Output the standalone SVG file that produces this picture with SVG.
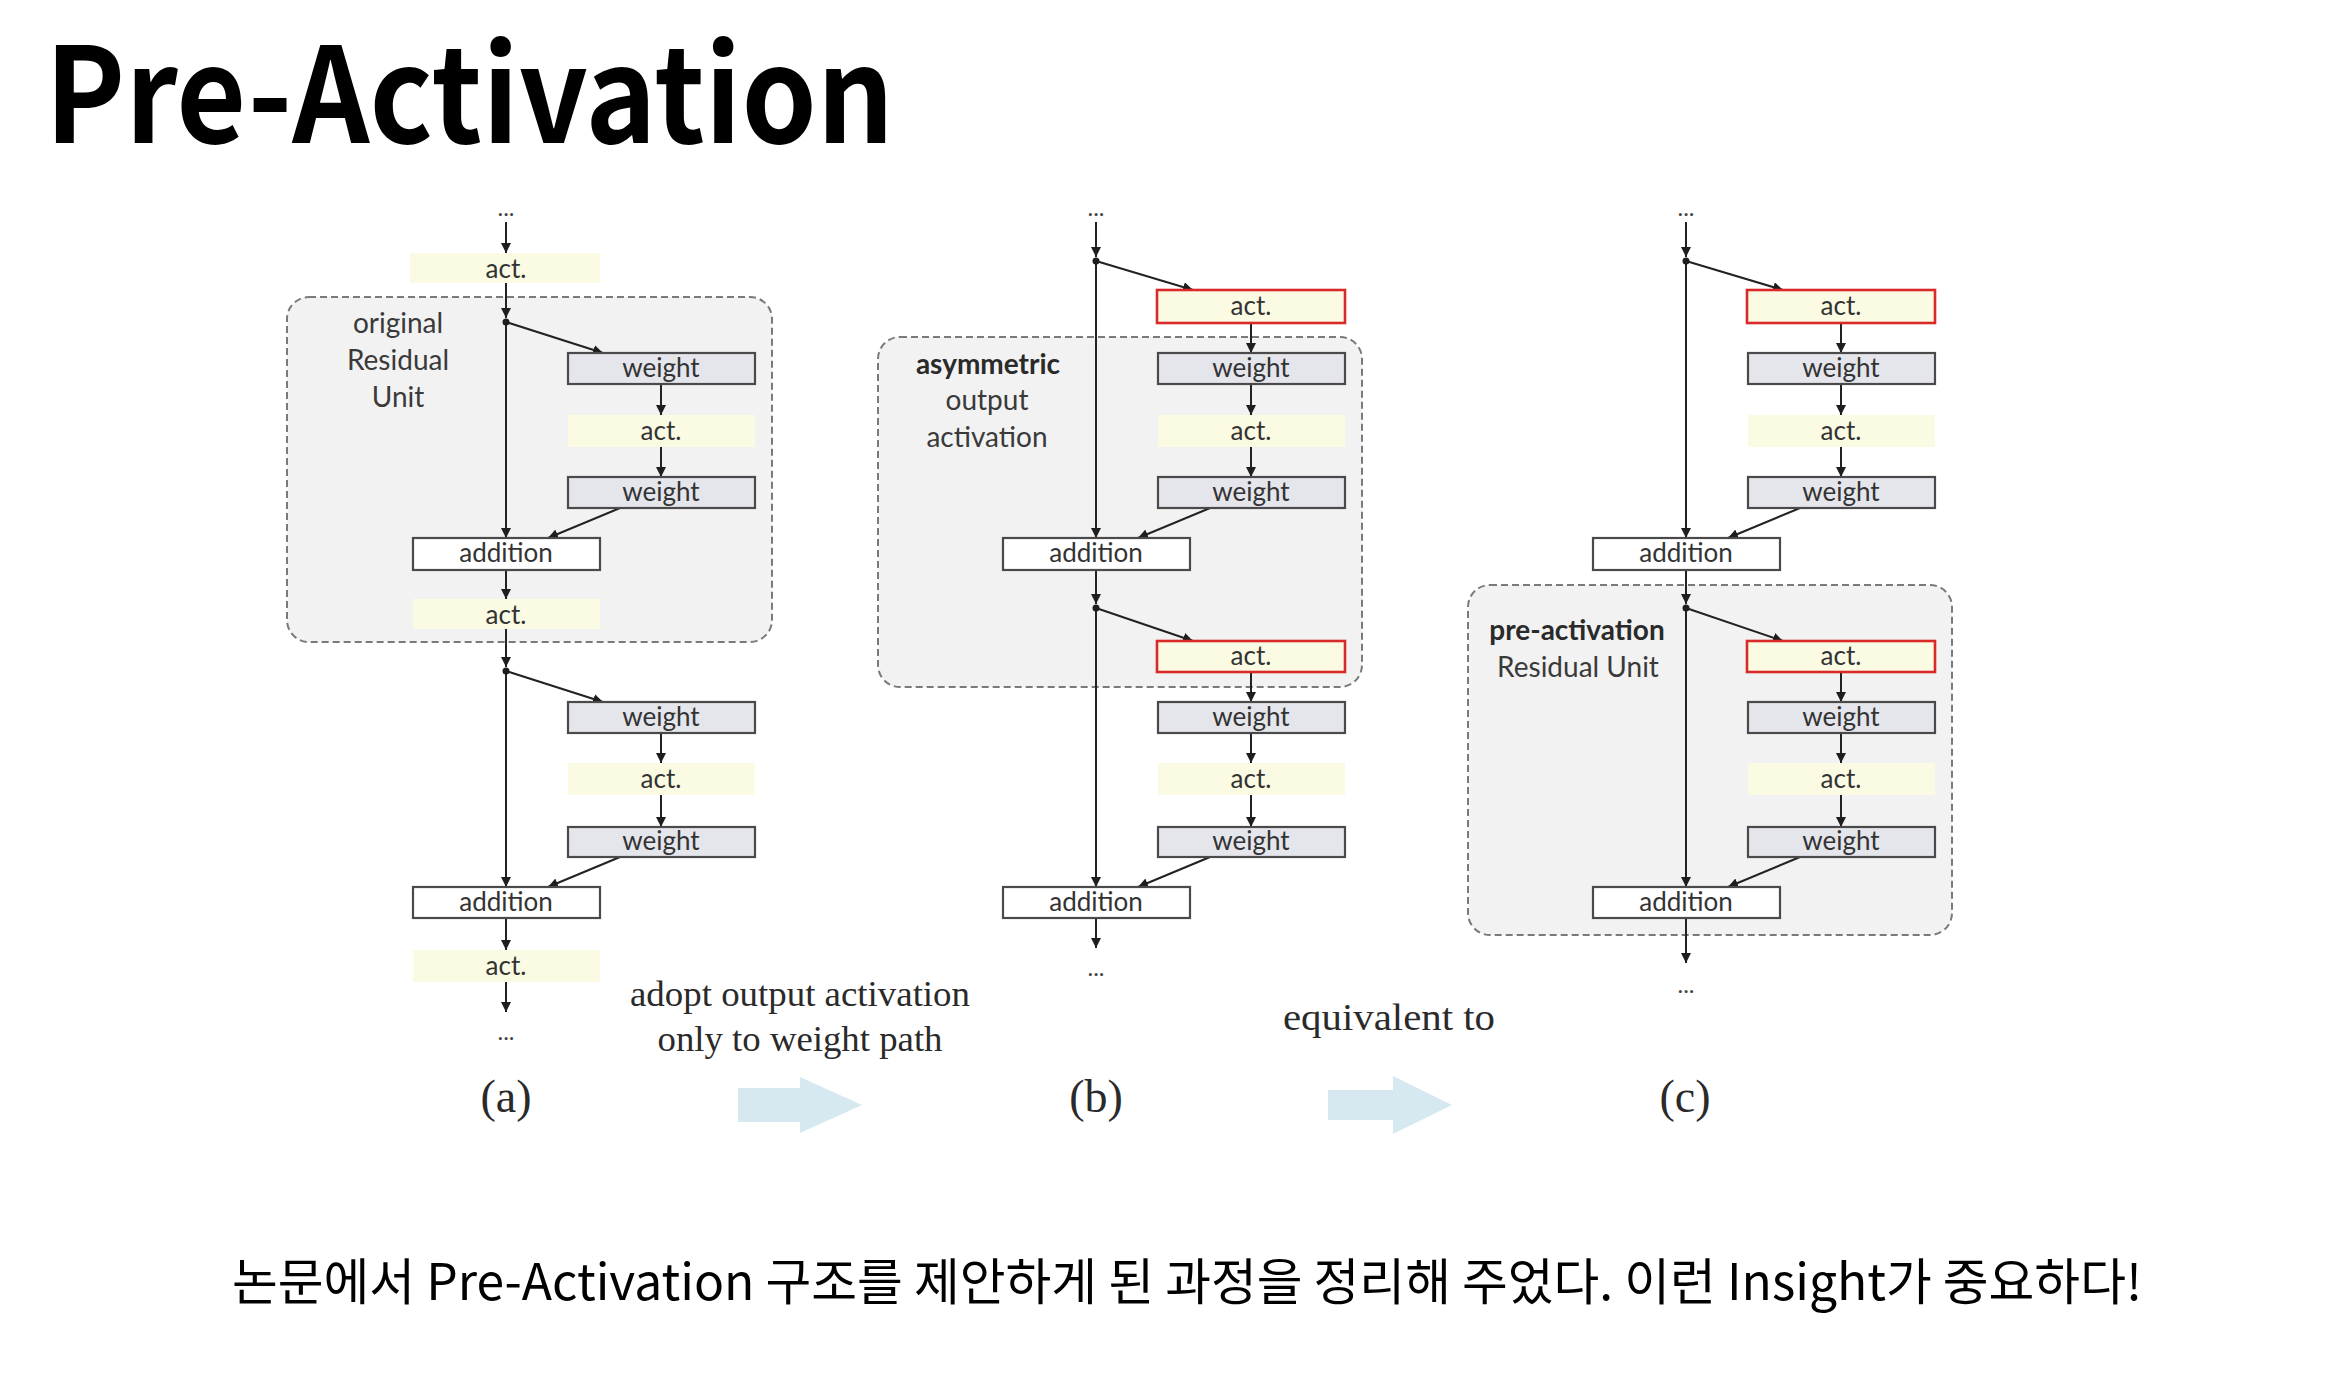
<svg xmlns="http://www.w3.org/2000/svg" width="2345" height="1385" viewBox="0 0 2345 1385">
  <style>
    .title { font-family: "Noto Sans CJK KR", "Noto Sans", sans-serif; font-weight: 700; font-size: 132px; fill: #000; }
    .caption { font-family: "Noto Sans CJK KR", "Noto Sans", sans-serif; font-size: 50px; fill: #000; }
    .unit { fill: #f2f2f2; stroke: #7a7a7a; stroke-width: 2; stroke-dasharray: 7 4; }
    .weight { fill: #e5e5ec; stroke: #4a4a4a; stroke-width: 2.2; }
    .act { fill: #fbfbe4; stroke: none; }
    .act-red { fill: #fbfbe4; stroke: #d92a2a; stroke-width: 2.6; }
    .add { fill: #ffffff; stroke: #4a4a4a; stroke-width: 2.2; }
    .lbl { font-family: Lato, "Open Sans", sans-serif; font-size: 26px; fill: #333; text-anchor: middle; }
    .note { font-family: Lato, "Open Sans", sans-serif; font-size: 28px; fill: #3a3a3a; text-anchor: middle; }
    .note-b { font-family: Lato, "Open Sans", sans-serif; font-size: 28px; font-weight: 700; fill: #2a2a2a; text-anchor: middle; }
    .dots { font-family: Lato, sans-serif; font-size: 24px; fill: #444; text-anchor: middle; }
    .serif { font-family: "Liberation Serif", "Times New Roman", serif; fill: #2a2a2a; text-anchor: middle; }
    .fig { font-family: "Liberation Serif", "Times New Roman", serif; font-size: 46px; fill: #2a2a2a; text-anchor: middle; }
    .arr { stroke: #222; stroke-width: 2; fill: none; marker-end: url(#head); }
    .big-arrow { fill: #d6e9f1; }
  </style>
  <defs>
    <marker id="head" viewBox="0 0 10 10" refX="10" refY="5" markerWidth="10" markerHeight="10" markerUnits="userSpaceOnUse" orient="auto">
      <path d="M0,0 L10,5 L0,10 z" fill="#1e1e1e"/>
    </marker>
  </defs>

  <rect width="2345" height="1385" fill="#ffffff"/>

  <text id="title" class="title" x="45" y="143" textLength="849" lengthAdjust="spacingAndGlyphs">Pre-Activation</text>

  <!-- dashed unit outlines -->
  <g id="units">
    <rect id="unit-a" class="unit" x="287" y="297" width="485" height="345" rx="22"/>
    <rect id="unit-b" class="unit" x="878" y="337" width="484" height="350" rx="22"/>
    <rect id="unit-c" class="unit" x="1468" y="585" width="484" height="350" rx="22"/>
  </g>

  <!-- connectors -->
  <g id="connectors">
    <!-- (a) -->
    <line class="arr" x1="506" y1="222" x2="506" y2="253"/>
    <line class="arr" x1="506" y1="283" x2="506" y2="318"/>
    <line class="arr" x1="506" y1="322" x2="506" y2="538"/>
    <line class="arr" x1="506" y1="322" x2="603" y2="353"/>
    <line class="arr" x1="661" y1="384" x2="661" y2="415"/>
    <line class="arr" x1="661" y1="447" x2="661" y2="477"/>
    <line class="arr" x1="620" y1="508" x2="548" y2="538"/>
    <line class="arr" x1="506" y1="570" x2="506" y2="599"/>
    <line class="arr" x1="506" y1="629" x2="506" y2="667"/>
    <line class="arr" x1="506" y1="671" x2="506" y2="887"/>
    <line class="arr" x1="506" y1="671" x2="603" y2="702"/>
    <line class="arr" x1="661" y1="733" x2="661" y2="763"/>
    <line class="arr" x1="661" y1="795" x2="661" y2="827"/>
    <line class="arr" x1="620" y1="857" x2="548" y2="887"/>
    <line class="arr" x1="506" y1="918" x2="506" y2="950"/>
    <line class="arr" x1="506" y1="982" x2="506" y2="1012"/>
    <circle cx="506" cy="322" r="3.5" fill="#1e1e1e"/>
    <circle cx="506" cy="671" r="3.5" fill="#1e1e1e"/>

    <!-- (b) -->
    <line class="arr" x1="1096" y1="222" x2="1096" y2="257"/>
    <line class="arr" x1="1096" y1="261" x2="1096" y2="538"/>
    <line class="arr" x1="1096" y1="261" x2="1193" y2="290"/>
    <line class="arr" x1="1251" y1="323" x2="1251" y2="353"/>
    <line class="arr" x1="1251" y1="384" x2="1251" y2="415"/>
    <line class="arr" x1="1251" y1="447" x2="1251" y2="477"/>
    <line class="arr" x1="1210" y1="508" x2="1138" y2="538"/>
    <line class="arr" x1="1096" y1="570" x2="1096" y2="604"/>
    <line class="arr" x1="1096" y1="608" x2="1096" y2="887"/>
    <line class="arr" x1="1096" y1="608" x2="1193" y2="641"/>
    <line class="arr" x1="1251" y1="672" x2="1251" y2="702"/>
    <line class="arr" x1="1251" y1="733" x2="1251" y2="763"/>
    <line class="arr" x1="1251" y1="795" x2="1251" y2="827"/>
    <line class="arr" x1="1210" y1="857" x2="1138" y2="887"/>
    <line class="arr" x1="1096" y1="918" x2="1096" y2="948"/>
    <circle cx="1096" cy="261" r="3.5" fill="#1e1e1e"/>
    <circle cx="1096" cy="608" r="3.5" fill="#1e1e1e"/>

    <!-- (c) -->
    <line class="arr" x1="1686" y1="222" x2="1686" y2="257"/>
    <line class="arr" x1="1686" y1="261" x2="1686" y2="538"/>
    <line class="arr" x1="1686" y1="261" x2="1783" y2="290"/>
    <line class="arr" x1="1841" y1="323" x2="1841" y2="353"/>
    <line class="arr" x1="1841" y1="384" x2="1841" y2="415"/>
    <line class="arr" x1="1841" y1="447" x2="1841" y2="477"/>
    <line class="arr" x1="1800" y1="508" x2="1728" y2="538"/>
    <line class="arr" x1="1686" y1="570" x2="1686" y2="604"/>
    <line class="arr" x1="1686" y1="608" x2="1686" y2="887"/>
    <line class="arr" x1="1686" y1="608" x2="1783" y2="641"/>
    <line class="arr" x1="1841" y1="672" x2="1841" y2="702"/>
    <line class="arr" x1="1841" y1="733" x2="1841" y2="763"/>
    <line class="arr" x1="1841" y1="795" x2="1841" y2="827"/>
    <line class="arr" x1="1800" y1="857" x2="1728" y2="887"/>
    <line class="arr" x1="1686" y1="918" x2="1686" y2="963"/>
    <circle cx="1686" cy="261" r="3.5" fill="#1e1e1e"/>
    <circle cx="1686" cy="608" r="3.5" fill="#1e1e1e"/>
  </g>

  <!-- column (a): original Residual Unit -->
  <g id="col-a">
    <text class="dots" x="506" y="216">...</text>
    <g id="a-act0"><rect class="act" x="410" y="253" width="190" height="30"/><text class="lbl" x="506" y="278">act.</text></g>
    <g id="a-w1"><rect class="weight" x="568" y="353" width="187" height="31"/><text class="lbl" x="661" y="377">weight</text></g>
    <g id="a-act1"><rect class="act" x="568" y="415" width="187" height="32"/><text class="lbl" x="661" y="440">act.</text></g>
    <g id="a-w2"><rect class="weight" x="568" y="477" width="187" height="31"/><text class="lbl" x="661" y="501">weight</text></g>
    <g id="a-add1"><rect class="add" x="413" y="538" width="187" height="32"/><text class="lbl" x="506" y="562">addition</text></g>
    <g id="a-act2"><rect class="act" x="413" y="599" width="187" height="30"/><text class="lbl" x="506" y="624">act.</text></g>
    <g id="a-w3"><rect class="weight" x="568" y="702" width="187" height="31"/><text class="lbl" x="661" y="726">weight</text></g>
    <g id="a-act3"><rect class="act" x="568" y="763" width="187" height="32"/><text class="lbl" x="661" y="788">act.</text></g>
    <g id="a-w4"><rect class="weight" x="568" y="827" width="187" height="30"/><text class="lbl" x="661" y="850">weight</text></g>
    <g id="a-add2"><rect class="add" x="413" y="887" width="187" height="31"/><text class="lbl" x="506" y="911">addition</text></g>
    <g id="a-act4"><rect class="act" x="413" y="950" width="187" height="32"/><text class="lbl" x="506" y="975">act.</text></g>
    <text class="dots" x="506" y="1040">...</text>
    <text class="note" x="398" y="333">original</text>
    <text class="note" x="398" y="370">Residual</text>
    <text class="note" x="398" y="407">Unit</text>
    <text class="fig" x="506" y="1112">(a)</text>
  </g>

  <!-- column (b): asymmetric output activation -->
  <g id="col-b">
    <text class="dots" x="1096" y="216">...</text>
    <g id="b-act0"><rect class="act-red" x="1157" y="290" width="188" height="33"/><text class="lbl" x="1251" y="315">act.</text></g>
    <g id="b-w1"><rect class="weight" x="1158" y="353" width="187" height="31"/><text class="lbl" x="1251" y="377">weight</text></g>
    <g id="b-act1"><rect class="act" x="1158" y="415" width="187" height="32"/><text class="lbl" x="1251" y="440">act.</text></g>
    <g id="b-w2"><rect class="weight" x="1158" y="477" width="187" height="31"/><text class="lbl" x="1251" y="501">weight</text></g>
    <g id="b-add1"><rect class="add" x="1003" y="538" width="187" height="32"/><text class="lbl" x="1096" y="562">addition</text></g>
    <g id="b-act2"><rect class="act-red" x="1157" y="641" width="188" height="31"/><text class="lbl" x="1251" y="665">act.</text></g>
    <g id="b-w3"><rect class="weight" x="1158" y="702" width="187" height="31"/><text class="lbl" x="1251" y="726">weight</text></g>
    <g id="b-act3"><rect class="act" x="1158" y="763" width="187" height="32"/><text class="lbl" x="1251" y="788">act.</text></g>
    <g id="b-w4"><rect class="weight" x="1158" y="827" width="187" height="30"/><text class="lbl" x="1251" y="850">weight</text></g>
    <g id="b-add2"><rect class="add" x="1003" y="887" width="187" height="31"/><text class="lbl" x="1096" y="911">addition</text></g>
    <text class="dots" x="1096" y="976">...</text>
    <text class="note-b" x="988" y="374">asymmetric</text>
    <text class="note" x="987" y="410">output</text>
    <text class="note" x="987" y="447">activation</text>
    <text class="fig" x="1096" y="1112">(b)</text>
  </g>

  <!-- column (c): pre-activation Residual Unit -->
  <g id="col-c">
    <text class="dots" x="1686" y="216">...</text>
    <g id="c-act0"><rect class="act-red" x="1747" y="290" width="188" height="33"/><text class="lbl" x="1841" y="315">act.</text></g>
    <g id="c-w1"><rect class="weight" x="1748" y="353" width="187" height="31"/><text class="lbl" x="1841" y="377">weight</text></g>
    <g id="c-act1"><rect class="act" x="1748" y="415" width="187" height="32"/><text class="lbl" x="1841" y="440">act.</text></g>
    <g id="c-w2"><rect class="weight" x="1748" y="477" width="187" height="31"/><text class="lbl" x="1841" y="501">weight</text></g>
    <g id="c-add1"><rect class="add" x="1593" y="538" width="187" height="32"/><text class="lbl" x="1686" y="562">addition</text></g>
    <g id="c-act2"><rect class="act-red" x="1747" y="641" width="188" height="31"/><text class="lbl" x="1841" y="665">act.</text></g>
    <g id="c-w3"><rect class="weight" x="1748" y="702" width="187" height="31"/><text class="lbl" x="1841" y="726">weight</text></g>
    <g id="c-act3"><rect class="act" x="1748" y="763" width="187" height="32"/><text class="lbl" x="1841" y="788">act.</text></g>
    <g id="c-w4"><rect class="weight" x="1748" y="827" width="187" height="30"/><text class="lbl" x="1841" y="850">weight</text></g>
    <g id="c-add2"><rect class="add" x="1593" y="887" width="187" height="31"/><text class="lbl" x="1686" y="911">addition</text></g>
    <text class="dots" x="1686" y="993">...</text>
    <text class="note-b" x="1577" y="640">pre-activation</text>
    <text class="note" x="1578" y="677">Residual Unit</text>
    <text class="fig" x="1685" y="1112">(c)</text>
  </g>

  <!-- transitions between the three variants -->
  <g id="step-ab">
    <text class="serif" x="800" y="1006" font-size="36" textLength="340" lengthAdjust="spacingAndGlyphs">adopt output activation</text>
    <text class="serif" x="800" y="1051" font-size="36" textLength="285" lengthAdjust="spacingAndGlyphs">only to weight path</text>
    <path class="big-arrow" d="M738,1088 H800 V1077 L862,1105 L800,1133 V1122 H738 Z"/>
  </g>
  <g id="step-bc">
    <text class="serif" x="1389" y="1030" font-size="38" textLength="212" lengthAdjust="spacingAndGlyphs">equivalent to</text>
    <path class="big-arrow" d="M1328,1090 H1393 V1076 L1452,1105 L1393,1134 V1120 H1328 Z"/>
  </g>

  <text id="caption" class="caption" x="232" y="1300" textLength="1910" lengthAdjust="spacingAndGlyphs">논문에서 Pre-Activation 구조를 제안하게 된 과정을 정리해 주었다. 이런 Insight가 중요하다!</text>
</svg>
